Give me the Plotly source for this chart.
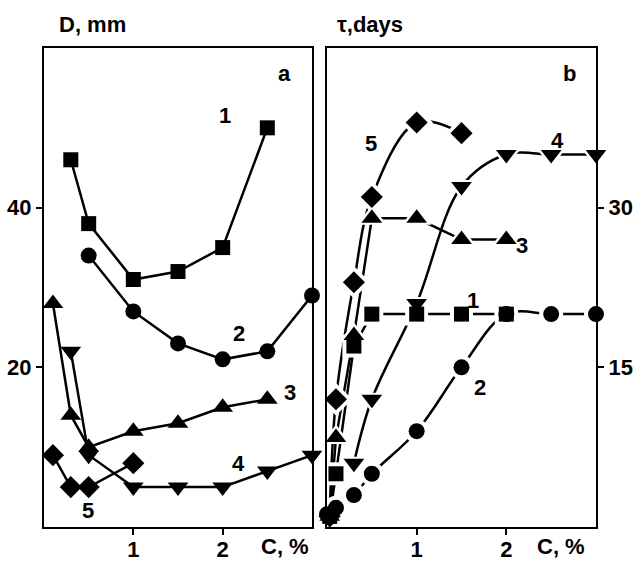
import plotly.graph_objects as go

# ---- panel a: D, mm vs C, % ----
a1_x = [0.3, 0.5, 1.0, 1.5, 2.0, 2.5]
a1_y = [46, 38, 31, 32, 35, 50]
a2_x = [0.5, 1.0, 1.5, 2.0, 2.5, 3.0]
a2_y = [34, 27, 23, 21, 22, 29]
a3_x = [0.1, 0.3, 0.5, 1.0, 1.5, 2.0, 2.5]
a3_y = [28, 14, 10, 12, 13, 15, 16]
a4_x = [0.3, 0.5, 1.0, 1.5, 2.0, 2.5, 3.0]
a4_y = [22, 9, 5, 5, 5, 7, 9]
a5_x = [0.1, 0.3, 0.5, 1.0]
a5_y = [9, 5, 5, 8]

# ---- panel b: tau, days vs C, % ----
b1_x = [0.03, 0.1, 0.3, 0.5, 1.0, 1.5, 2.0]
b1_y = [1, 5, 17, 20, 20, 20, 20]
b2_x = [0.0, 0.1, 0.3, 0.5, 1.0, 1.5, 2.0, 2.5, 3.0]
b2_y = [1.2, 1.8, 3, 5, 9, 15, 20, 20, 20]
b3_x = [0.03, 0.1, 0.3, 0.5, 1.0, 1.5, 2.0]
b3_y = [1, 8.4, 18, 29, 29, 27, 27]
b4_x = [0.3, 0.5, 1.0, 1.5, 2.0, 2.5, 3.0]
b4_y = [6, 12, 21, 32, 35, 35, 35]
b5_x = [0.03, 0.1, 0.3, 0.5, 1.0, 1.5]
b5_y = [1, 12, 23, 31, 38, 37]

x_ticks = [1, 2]
a_yticks = [20, 40]
b_yticks = [15, 30]

FONT = "Liberation Sans, Arial, sans-serif"
INK = "black"
LW = 2.5

symbols = ["square", "circle", "triangle-up", "triangle-down", "diamond"]
sizes = [15, 16, 18, 18, 17]

fig = go.Figure()

panel_a = [(a1_x, a1_y), (a2_x, a2_y), (a3_x, a3_y), (a4_x, a4_y), (a5_x, a5_y)]
for (xs, ys), sym, sz in zip(panel_a, symbols, sizes):
    fig.add_trace(go.Scatter(
        x=xs, y=ys, mode="lines+markers", xaxis="x", yaxis="y",
        line=dict(color=INK, width=LW),
        marker=dict(symbol=sym, size=sz, color=INK),
        cliponaxis=False, showlegend=False, hoverinfo="skip"))

# panel b: curves broken around the markers by a white halo layer
panel_b = [(b1_x, b1_y, "linear"), (b2_x, b2_y, "spline"), (b3_x, b3_y, "linear"),
           (b4_x, b4_y, "spline"), (b5_x, b5_y, "spline")]
for xs, ys, shape in panel_b:
    fig.add_trace(go.Scatter(
        x=xs, y=ys, mode="lines", xaxis="x2", yaxis="y2",
        line=dict(color=INK, width=LW, shape=shape, smoothing=1.0),
        showlegend=False, hoverinfo="skip"))
for (xs, ys, _), sym, sz in zip(panel_b, symbols, sizes):
    fig.add_trace(go.Scatter(
        x=xs, y=ys, mode="markers", xaxis="x2", yaxis="y2",
        marker=dict(symbol=sym, size=sz + 8, color="white"),
        cliponaxis=True, showlegend=False, hoverinfo="skip"))
for (xs, ys, _), sym, sz in zip(panel_b, symbols, sizes):
    fig.add_trace(go.Scatter(
        x=xs, y=ys, mode="markers", xaxis="x2", yaxis="y2",
        marker=dict(symbol=sym, size=sz, color=INK),
        cliponaxis=False, showlegend=False, hoverinfo="skip"))

W, H = 634, 561
ya_dom = [1 - 527 / H, 1 - 48 / H]
axis_common = dict(showline=True, linecolor=INK, linewidth=2, mirror=True,
                   ticks="outside", ticklen=6, tickwidth=2, tickcolor=INK,
                   showgrid=False, zeroline=False, automargin=False,
                   tickfont=dict(family=FONT, size=22, color=INK, weight="bold"))
x_extra = dict(ticklabelstandoff=-4)

fig.update_layout(
    width=W, height=H,
    margin=dict(l=0, r=0, t=0, b=0),
    paper_bgcolor="white", plot_bgcolor="white",
    xaxis=dict(domain=[44 / W, 312 / W], range=[0, 3], tickvals=x_ticks,
               anchor="y", **axis_common, **x_extra),
    yaxis=dict(domain=ya_dom, range=[0, 60], tickvals=a_yticks,
               anchor="x", side="left", **axis_common),
    xaxis2=dict(domain=[327 / W, 596 / W], range=[0, 3], tickvals=x_ticks,
                anchor="y2", **axis_common, **x_extra),
    yaxis2=dict(domain=ya_dom, range=[0, 45], tickvals=b_yticks,
                anchor="x2", side="right", **axis_common),
)

txt = dict(family=FONT, size=22, color=INK, weight="bold")
labels = [
    # panel a
    ("x", "y", 2.69, 56.8, "a"), ("x", "y", 2.03, 51.5, "1"),
    ("x", "y", 2.18, 24.3, "2"), ("x", "y", 2.75, 16.9, "3"),
    ("x", "y", 2.18, 8.0, "4"), ("x", "y", 0.49, 2.1, "5"),
    # panel b
    ("x2", "y2", 2.70, 42.6, "b"), ("x2", "y2", 0.49, 36.0, "5"),
    ("x2", "y2", 2.57, 36.3, "4"), ("x2", "y2", 2.18, 26.4, "3"),
    ("x2", "y2", 1.63, 21.3, "1"), ("x2", "y2", 1.71, 13.1, "2"),
]
for xr, yr, x, y, t in labels:
    fig.add_annotation(xref=xr, yref=yr, x=x, y=y, text=t, showarrow=False,
                       font=txt, xanchor="center", yanchor="middle")

# axis titles placed around the frames
titles = [
    (92 / W, 1 - 25 / H, "D, mm"),
    (370 / W, 1 - 25 / H, "\u03c4,days"),
    (285 / W, 1 - 546 / H, "C, %"),
    (561 / W, 1 - 546 / H, "C, %"),
]
for x, y, t in titles:
    fig.add_annotation(xref="paper", yref="paper", x=x, y=y, text=t,
                       showarrow=False, font=txt,
                       xanchor="center", yanchor="middle")

fig.write_html("out.html")
